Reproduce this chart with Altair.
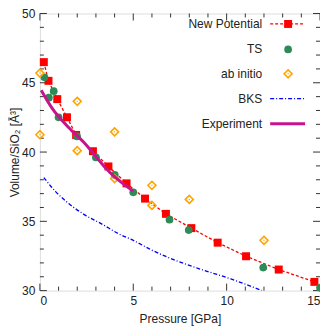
import altair as alt
import pandas as pd

# ---- data ----
np_p = [0.21, 0.46, 0.93, 1.45, 1.94, 2.84, 3.67, 4.64, 5.63, 6.75, 8.11, 9.52, 11.04, 12.79, 14.7]
np_v = [46.49, 45.14, 43.82, 42.51, 41.23, 40.06, 38.96, 37.74, 36.64, 35.54, 34.51, 33.46, 32.48, 31.52, 30.63]

ts_p = [0.24, 0.48, 0.74, 1.0, 1.99, 3.0, 4.01, 5.0, 6.94, 7.97, 11.96, 15.0]
ts_v = [45.39, 43.92, 44.39, 42.51, 41.13, 39.61, 38.35, 37.09, 35.12, 34.37, 31.66, 30.2]

ab_p = [0, 0, 2, 2, 4, 4, 6, 6, 8, 12]
ab_v = [45.7, 41.25, 43.66, 40.1, 41.46, 38.09, 37.6, 36.15, 36.58, 33.63]

bks_p = [0.21, 0.83, 1.54, 2.42, 3.3, 4.19, 5.07, 5.95, 6.68, 8.46, 10.23, 11.9]
bks_v = [38.16, 37.16, 36.29, 35.45, 34.82, 34.12, 33.58, 32.95, 32.5, 31.61, 30.84, 30.0]

exp_p = [0.07, 0.65, 1.54, 2.42, 3.3, 3.48, 5.0]
exp_v = [44.46, 43.17, 41.77, 40.6, 39.19, 38.91, 37.18]

x_major = [0, 5, 10, 15]
x_minor = [1, 2, 3, 4, 6, 7, 8, 9, 11, 12, 13, 14]
y_major = [30, 35, 40, 45, 50]
y_minor = [31, 32, 33, 34, 36, 37, 38, 39, 41, 42, 43, 44, 46, 47, 48, 49]

legend_labels = ["New Potential", "TS", "ab initio", "BKS", "Experiment"]

RED = "#ff0000"
GREEN = "#2e8b57"
ORANGE = "#ffa500"
BLUE = "#0000ff"
MAGENTA = "#c8148c"
FONT = "Liberation Sans"

PAD_L, PAD_T, PAD_B = 32, 5, 35
W, H = 281, 278

xscale = alt.Scale(domain=[0, 15], nice=False, zero=False)
yscale = alt.Scale(domain=[30, 50], nice=False, zero=False)
xaxis = alt.Axis(values=x_major, ticks=False, domain=False, grid=False,
                 title="Pressure [GPa]", labelPadding=5, titlePadding=7,
                 labelFontSize=12, titleFontSize=12, labelFont=FONT, titleFont=FONT,
                 labelColor="#222222", titleColor="#222222", titleFontWeight="normal")
yaxis = alt.Axis(values=y_major, ticks=False, domain=False, grid=False,
                 title="Volume/SiO₂ [Å³]", labelPadding=5, titlePadding=0,
                 labelFontSize=12, titleFontSize=12, labelFont=FONT, titleFont=FONT,
                 labelColor="#222222", titleColor="#222222", titleFontWeight="normal")


def X(f):
    return alt.X(f, type="quantitative", scale=xscale, axis=xaxis)


def Y(f):
    return alt.Y(f, type="quantitative", scale=yscale, axis=yaxis)


df_np = pd.DataFrame({"p": np_p, "v": np_v})
df_ts = pd.DataFrame({"p": ts_p, "v": ts_v})
df_ab = pd.DataFrame({"p": ab_p, "v": ab_v})
df_bks = pd.DataFrame({"p": bks_p, "v": bks_v})
df_exp = pd.DataFrame({"p": exp_p, "v": exp_v})

layers = []

# ticks (inward, on all four sides)
for vals, size in ((x_major, 7), (x_minor, 4)):
    d = pd.DataFrame({"p": vals})
    layers.append(alt.Chart(d).mark_rule(color="#333333", strokeWidth=1).encode(
        x=X("p"), y=alt.value(H), y2=alt.value(H - size)))
    layers.append(alt.Chart(d).mark_rule(color="#333333", strokeWidth=1).encode(
        x=X("p"), y=alt.value(0), y2=alt.value(size)))
for vals, size in ((y_major, 7), (y_minor, 4)):
    d = pd.DataFrame({"v": vals})
    layers.append(alt.Chart(d).mark_rule(color="#333333", strokeWidth=1).encode(
        y=Y("v"), x=alt.value(0), x2=alt.value(size)))
    layers.append(alt.Chart(d).mark_rule(color="#333333", strokeWidth=1).encode(
        y=Y("v"), x=alt.value(W), x2=alt.value(W - size)))

# New Potential
layers.append(alt.Chart(df_np).mark_line(color=RED, strokeWidth=1.3, strokeDash=[3, 2]).encode(
    x=X("p"), y=Y("v")))
layers.append(alt.Chart(df_np).mark_point(shape="square", filled=True, color=RED, size=64, opacity=1).encode(
    x=X("p"), y=Y("v")))
# TS
layers.append(alt.Chart(df_ts).mark_point(shape="circle", filled=True, color=GREEN, size=60, opacity=1).encode(
    x=X("p"), y=Y("v")))
# ab initio
layers.append(alt.Chart(df_ab).mark_point(shape="diamond", filled=False, color=ORANGE, size=64,
                                          strokeWidth=1.6, opacity=1).encode(x=X("p"), y=Y("v")))
layers.append(alt.Chart(df_ab).mark_point(shape="circle", filled=True, color=ORANGE, size=2, opacity=1).encode(
    x=X("p"), y=Y("v")))
# BKS
layers.append(alt.Chart(df_bks).mark_line(color=BLUE, strokeWidth=1.3, strokeDash=[4, 2, 1, 2],
                                          interpolate="monotone", clip=True).encode(x=X("p"), y=Y("v")))
# Experiment
layers.append(alt.Chart(df_exp).mark_line(color=MAGENTA, strokeWidth=3, interpolate="monotone").encode(
    x=X("p"), y=Y("v")))

# legend (manual, labels on the left of the samples)
row_y = [10.5, 36, 60.5, 85.5, 110.5]
lx_text, lx_a, lx_b, lx_sym = 223, 231, 266, 249
for i, lab in enumerate(legend_labels):
    d = pd.DataFrame({"t": [lab]})
    yv = row_y[i]
    layers.append(alt.Chart(d).mark_text(align="right", baseline="middle", fontSize=12, font=FONT,
                                         color="#222222").encode(
        x=alt.value(lx_text), y=alt.value(yv), text="t:N"))
    if lab == "New Potential":
        layers.append(alt.Chart(d).mark_rule(color=RED, strokeWidth=1.3, strokeDash=[3, 2]).encode(
            x=alt.value(lx_a), x2=alt.value(lx_b), y=alt.value(yv)))
        layers.append(alt.Chart(d).mark_point(shape="square", filled=True, color=RED, size=64, opacity=1).encode(
            x=alt.value(lx_sym), y=alt.value(yv)))
    elif lab == "TS":
        layers.append(alt.Chart(d).mark_point(shape="circle", filled=True, color=GREEN, size=60, opacity=1).encode(
            x=alt.value(lx_sym), y=alt.value(yv)))
    elif lab == "ab initio":
        layers.append(alt.Chart(d).mark_point(shape="diamond", filled=False, color=ORANGE, size=64,
                                              strokeWidth=1.6, opacity=1).encode(
            x=alt.value(lx_sym), y=alt.value(yv)))
        layers.append(alt.Chart(d).mark_point(shape="circle", filled=True, color=ORANGE, size=2, opacity=1).encode(
            x=alt.value(lx_sym), y=alt.value(yv)))
    elif lab == "BKS":
        layers.append(alt.Chart(d).mark_rule(color=BLUE, strokeWidth=1.3, strokeDash=[4, 2, 1, 2]).encode(
            x=alt.value(lx_a), x2=alt.value(lx_b), y=alt.value(yv)))
    else:
        layers.append(alt.Chart(d).mark_rule(color=MAGENTA, strokeWidth=3).encode(
            x=alt.value(lx_a), x2=alt.value(lx_b), y=alt.value(yv)))

chart = alt.layer(*layers).properties(
    width=W, height=H,
    autosize=alt.AutoSizeParams(type="none"),
    padding={"left": PAD_L, "top": PAD_T, "right": 0, "bottom": PAD_B},
).configure_view(stroke="#333333", strokeWidth=1).configure(background="white")

chart.save("out.html", embed_options={"renderer": "svg", "actions": False})
